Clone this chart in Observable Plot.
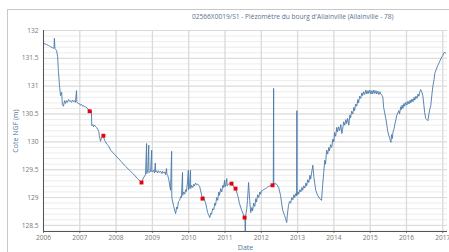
<!DOCTYPE html>
<html><head><meta charset="utf-8">
<script src="https://cdn.jsdelivr.net/npm/d3@7"></script>
<script src="https://cdn.jsdelivr.net/npm/@observablehq/plot@0.6"></script>
<style>
html,body{margin:0;padding:0;background:#fff;overflow:hidden;width:449px;height:252px;}
#wrap{position:relative;width:449px;height:252px;font-family:"Open Sans",sans-serif;}
#frame{position:absolute;left:7px;top:9px;width:460px;height:260px;border-top:1px solid #c8c8c8;border-left:1px solid #c8c8c8;}
#title{position:absolute;left:192px;top:12px;font-size:6.6px;color:#5a7190;white-space:nowrap;}
#chart{position:absolute;left:0;top:22px;}
</style></head>
<body><div id="wrap"><div id="frame"></div><div id="title"></div><div id="chart"></div></div>
<script>
const title = "02566X0019/S1 - Piézomètre du bourg d'Allainville (Allainville - 78)";
// [decimal year, level (m NGF)]
const observations = [
[2006.00,131.77],[2006.08,131.75],[2006.14,131.73],[2006.19,131.71],[2006.25,131.69],[2006.29,131.68],[2006.30,131.86],[2006.315,131.68],[2006.36,131.64],[2006.39,131.53],[2006.41,131.28],[2006.44,131.01],[2006.47,130.83],[2006.50,130.89],[2006.52,130.67],[2006.55,130.64],[2006.58,130.74],[2006.61,130.69],[2006.63,130.74],[2006.66,130.71],[2006.69,130.76],[2006.72,130.73],[2006.74,130.74],[2006.77,130.71],[2006.80,130.75],[2006.83,130.72],[2006.85,130.74],[2006.88,130.71],[2006.91,130.92],[2006.92,130.71],[2006.96,130.69],[2007.00,130.68],[2007.02,130.66],[2007.05,130.67],[2007.08,130.64],[2007.11,130.65],[2007.13,130.63],[2007.16,130.63],[2007.19,130.61],[2007.24,130.58],[2007.27,130.55],
[2007.32,130.56],[2007.33,130.29],[2007.36,130.31],[2007.38,130.27],[2007.41,130.30],[2007.43,130.28],[2007.46,130.26],[2007.49,130.23],[2007.52,130.19],[2007.54,130.11],[2007.57,130.01],[2007.60,130.08],[2007.65,130.11],[2007.68,130.03],[2007.71,130.00],[2007.74,129.96],[2007.79,129.93],[2007.85,129.85],[2007.95,129.78],[2008.05,129.71],[2008.15,129.64],[2008.26,129.56],[2008.37,129.49],[2008.48,129.42],[2008.59,129.34],[2008.70,129.27],
[2008.76,129.36],[2008.81,129.41],[2008.84,129.97],[2008.845,129.43],[2008.87,129.45],[2008.90,129.94],[2008.905,129.45],[2008.95,129.47],[2008.98,129.85],[2008.985,129.46],[2009.03,129.49],[2009.06,129.44],[2009.08,129.62],[2009.09,129.46],[2009.12,129.48],[2009.14,129.44],[2009.17,129.48],[2009.20,129.45],[2009.23,129.47],[2009.26,129.43],[2009.28,129.47],[2009.31,129.44],[2009.34,129.46],[2009.36,129.41],[2009.39,129.52],[2009.40,129.42],[2009.42,129.40],[2009.45,129.33],[2009.50,129.13],[2009.53,129.83],[2009.535,129.00],[2009.58,128.86],[2009.64,128.71],
[2009.67,128.83],[2009.69,128.80],[2009.72,128.93],[2009.75,128.95],[2009.78,129.02],[2009.80,129.00],[2009.83,129.45],[2009.835,129.04],[2009.86,129.10],[2009.89,129.06],[2009.92,129.14],[2009.94,129.11],[2009.97,129.30],[2009.99,129.49],[2009.995,129.14],[2010.02,129.18],[2010.05,129.49],[2010.055,129.16],[2010.08,129.22],[2010.11,129.18],[2010.14,129.24],[2010.16,129.21],[2010.19,129.26],[2010.22,129.23],[2010.25,129.24],[2010.30,129.20],
[2010.38,128.98],[2010.41,129.02],[2010.44,128.95],[2010.47,128.89],[2010.50,128.80],[2010.52,128.73],[2010.55,128.69],[2010.58,128.64],[2010.61,128.72],[2010.63,128.70],[2010.66,128.80],[2010.69,128.78],[2010.72,128.90],[2010.74,128.86],[2010.77,129.00],[2010.80,128.95],[2010.83,129.10],[2010.85,129.04],[2010.88,129.16],[2010.91,129.10],[2010.94,129.22],[2010.96,129.18],[2010.99,129.31],[2011.00,129.19],[2011.02,129.22],[2011.05,129.34],[2011.06,129.21],[2011.09,129.24],[2011.13,129.25],[2011.18,129.25],[2011.24,129.20],[2011.29,129.16],[2011.35,129.04],[2011.40,128.89],[2011.46,128.77],[2011.54,128.64],
[2011.55,128.62],[2011.56,128.23],[2011.57,128.68],[2011.60,128.80],[2011.62,128.95],[2011.65,129.27],[2011.68,128.95],[2011.71,128.73],[2011.74,128.82],[2011.76,128.76],[2011.79,128.90],[2011.82,128.84],[2011.85,128.98],[2011.87,128.92],[2011.90,129.05],[2011.93,129.00],[2011.96,129.10],[2011.98,129.06],[2012.01,129.12],[2012.04,129.13],[2012.08,129.15],[2012.12,129.16],[2012.16,129.18],[2012.20,129.20],[2012.25,129.21],[2012.31,129.22],
[2012.33,129.24],[2012.34,130.96],[2012.345,129.24],[2012.38,129.25],[2012.42,129.24],[2012.48,129.18],[2012.53,129.04],[2012.56,128.90],[2012.59,128.77],[2012.64,128.68],[2012.67,128.62],[2012.70,128.55],[2012.72,128.70],[2012.75,128.86],[2012.78,128.93],[2012.81,128.90],[2012.84,129.00],[2012.87,128.96],[2012.90,129.05],[2012.92,129.00],[2012.95,129.07],[2012.975,129.03],[2012.98,130.56],[2012.985,129.05],[2013.01,129.10],[2013.03,129.06],[2013.06,129.14],[2013.09,129.10],[2013.12,129.18],[2013.14,129.13],[2013.17,129.21],[2013.20,129.17],[2013.23,129.26],[2013.25,129.21],[2013.28,129.32],[2013.31,129.27],[2013.34,129.40],[2013.36,129.33],[2013.40,129.50],[2013.42,129.58],[2013.45,129.36],[2013.50,129.13],[2013.55,129.04],[2013.61,128.98],[2013.66,128.95],
[2013.69,129.22],[2013.72,129.45],[2013.75,129.67],[2013.77,129.60],[2013.80,129.85],[2013.83,129.78],[2013.86,129.90],[2013.88,129.84],[2013.91,129.95],[2013.94,129.90],[2013.97,130.05],[2014.00,130.00],[2014.02,130.17],[2014.05,130.10],[2014.08,130.26],[2014.10,130.18],[2014.13,130.27],[2014.16,130.20],[2014.19,130.31],[2014.22,130.15],[2014.24,130.22],[2014.27,130.36],[2014.30,130.30],[2014.33,130.40],[2014.35,130.33],[2014.38,130.42],[2014.41,130.30],[2014.44,130.48],[2014.46,130.43],[2014.49,130.55],[2014.52,130.50],[2014.55,130.62],[2014.57,130.56],[2014.60,130.68],[2014.63,130.64],[2014.66,130.76],[2014.68,130.70],[2014.71,130.82],[2014.74,130.78],[2014.77,130.88],[2014.79,130.83],[2014.82,130.90],[2014.85,130.85],[2014.88,130.93],[2014.91,130.86],[2014.94,130.92],[2014.96,130.87],[2014.99,130.93],[2015.02,130.86],[2015.05,130.92],[2015.07,130.86],[2015.10,130.93],[2015.13,130.87],[2015.16,130.92],[2015.18,130.86],[2015.21,130.91],[2015.24,130.85],[2015.27,130.90],[2015.29,130.86],[2015.32,130.84],[2015.35,130.80],
[2015.37,130.62],[2015.40,130.52],[2015.43,130.42],[2015.46,130.30],[2015.48,130.20],[2015.51,130.12],[2015.54,130.06],[2015.57,129.99],[2015.59,130.13],[2015.61,130.06],[2015.63,130.18],[2015.66,130.24],[2015.68,130.32],[2015.71,130.40],[2015.73,130.47],[2015.76,130.52],[2015.79,130.56],[2015.81,130.50],[2015.84,130.63],[2015.86,130.58],[2015.88,130.66],[2015.90,130.60],[2015.93,130.69],[2015.95,130.64],[2015.98,130.71],[2016.01,130.66],[2016.04,130.73],[2016.07,130.68],[2016.10,130.75],[2016.12,130.70],[2016.15,130.77],[2016.18,130.72],[2016.21,130.80],[2016.23,130.75],[2016.26,130.82],[2016.29,130.78],[2016.32,130.86],[2016.34,130.82],[2016.37,130.90],[2016.39,130.94],[2016.42,130.90],[2016.45,130.83],[2016.48,130.66],[2016.50,130.53],[2016.53,130.42],[2016.56,130.40],[2016.59,130.38],[2016.62,130.51],[2016.64,130.58],[2016.67,130.65],[2016.70,130.85],[2016.73,131.01],[2016.76,131.12],[2016.78,131.23],[2016.82,131.30],[2016.86,131.37],[2016.90,131.42],[2016.95,131.50],[2016.98,131.53],[2017.00,131.55],[2017.03,131.60],[2017.06,131.61],[2017.08,131.59]
];
// measurement flags (red markers)
const redPoints = [[2007.27,130.55],[2007.65,130.11],[2008.70,129.27],[2010.38,128.98],[2011.18,129.25],[2011.29,129.16],[2011.54,128.64],[2012.31,129.22]];
const yearTicks = d3.range(2006, 2018, 1);
const levelTicks = [128.5,129,129.5,130,130.5,131,131.5,132];
const minorTicks = d3.range(1284, 1321, 1).map(d => d / 10);

document.getElementById("title").textContent = title;
const series = observations.map(([x, y]) => ({x, y}));
const reds = redPoints.map(([x, y]) => ({x, y}));
const yMin = 128.39, xMax = 2017.13;

const chart = Plot.plot({
  width: 449, height: 230,
  marginTop: 8, marginBottom: 21, marginLeft: 43, marginRight: 2,
  style: {fontFamily: "'Open Sans', sans-serif", fontSize: "6.6px", color: "#777", background: "transparent"},
  x: {domain: [2006, xMax], ticks: yearTicks, tickFormat: d => String(d), tickSize: 2, tickPadding: 2, label: "Date", labelAnchor: "center", labelArrow: false, labelOffset: 18},
  y: {domain: [yMin, 132], ticks: levelTicks, tickFormat: d => String(d), tickSize: 0, tickPadding: 5, label: "Cote NGF (m)", labelAnchor: "center", labelArrow: false, labelOffset: 30},
  marks: [
    Plot.ruleY(minorTicks, {stroke: "#ececec", strokeWidth: 1}),
    Plot.ruleY(levelTicks, {stroke: "#dadada", strokeWidth: 1}),
    Plot.ruleX(yearTicks, {stroke: "#dadada", strokeWidth: 1.3}),
    Plot.line(series, {x: "x", y: "y", stroke: "#4a78a8", strokeWidth: 0.9, clip: true}),
    Plot.dot(reds, {x: "x", y: "y", symbol: "square", r: 2.2, fill: "#e8000b", stroke: "none"}),
    Plot.ruleX([2006], {stroke: "#555", strokeWidth: 1}),
    Plot.ruleY([yMin], {stroke: "#555", strokeWidth: 1})
  ]
});
chart.querySelectorAll('g[aria-label="x-axis label"] text, g[aria-label="y-axis label"] text').forEach(t => {
  t.textContent = t.textContent.replace(/[↑↓←→]/g, "").trim();
  t.setAttribute("fill", "#4d759e"); t.style.fontSize = "7px";
});
document.getElementById("chart").appendChild(chart);
</script>
</body></html>
